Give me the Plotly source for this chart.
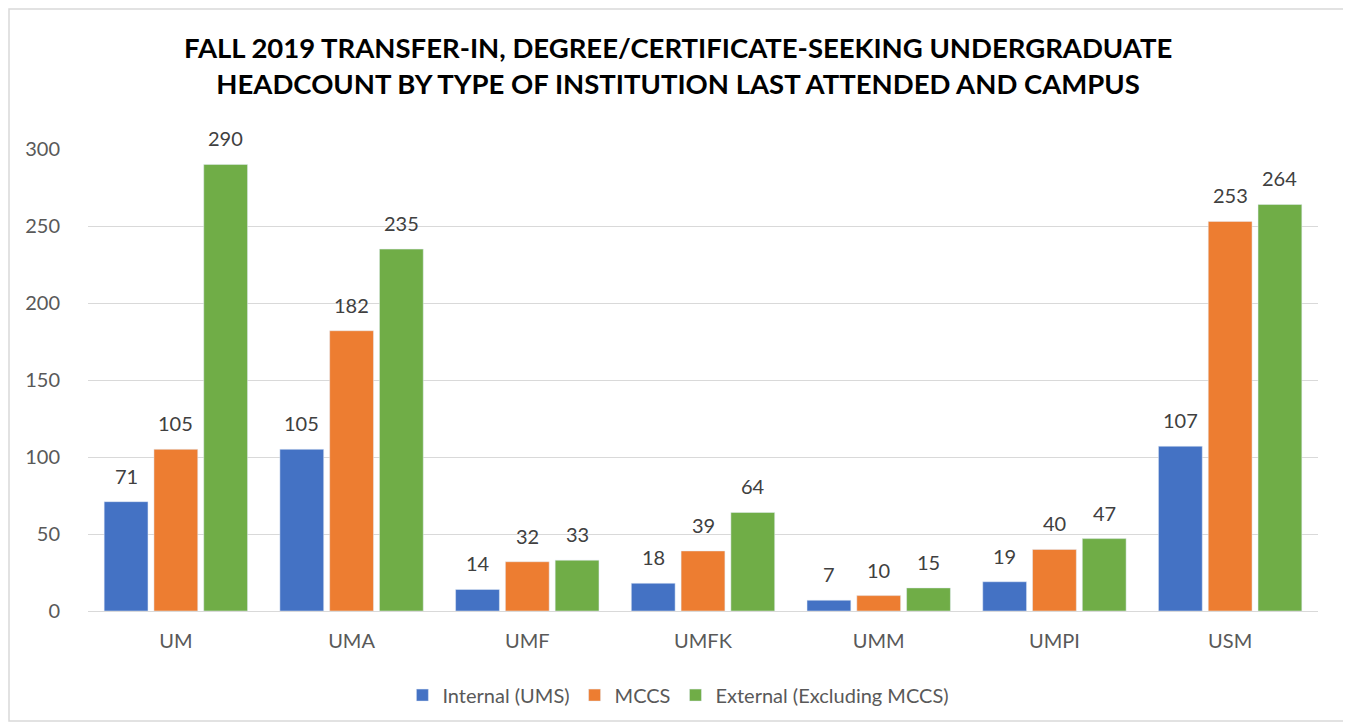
import plotly.graph_objects as go

# Campus categories and series values
campuses = ["UM", "UMA", "UMF", "UMFK", "UMM", "UMPI", "USM"]
internal_ums = [71, 105, 14, 18, 7, 19, 107]
mccs = [105, 182, 32, 39, 10, 40, 253]
external = [290, 235, 33, 64, 15, 47, 264]

series = [
    ("Internal (UMS)", internal_ums, "#4472C4"),
    ("MCCS", mccs, "#ED7D31"),
    ("External (Excluding MCCS)", external, "#70AD47"),
]

FONT = "Lato, Calibri, sans-serif"
BARGAP = 0.15
PLOT_W = 1230

fig = go.Figure()
for name, vals, color in series:
    fig.add_trace(go.Bar(
        x=campuses,
        y=vals,
        name=name,
        marker_color=color,
    ))

# value labels, placed a bit higher above the bars than plotly's outside text
slot = (1 - BARGAP) * PLOT_W / len(campuses) / len(series)
for i, (name, vals, color) in enumerate(series):
    for c, v in zip(campuses, vals):
        fig.add_annotation(
            x=c, y=v, text=str(v), showarrow=False,
            xshift=(i - 1) * slot, yshift=26, yanchor="middle",
            font=dict(family=FONT, size=20, color="#404040"),
        )

# page is rendered with an 8px body margin, margins below account for that
fig.update_layout(
    width=1351,
    height=726,
    paper_bgcolor="white",
    plot_bgcolor="white",
    font=dict(family=FONT, color="#595959"),
    title=dict(
        text="FALL 2019 TRANSFER-IN, DEGREE/CERTIFICATE-SEEKING UNDERGRADUATE<br>"
             "HEADCOUNT BY TYPE OF INSTITUTION LAST ATTENDED AND CAMPUS",
        x=0.496, xanchor="center", y=0.931, yanchor="middle",
        font=dict(family=FONT, size=27.5, color="black", weight="bold"),
    ),
    margin=dict(l=80, r=41, t=141, b=123),
    barmode="group",
    bargap=BARGAP,
    bargroupgap=0.12,
    showlegend=True,
    legend=dict(
        orientation="h",
        x=0.48, xanchor="center",
        y=-0.182, yanchor="middle",
        font=dict(family=FONT, size=20, color="#595959"),
    ),
)

fig.update_yaxes(
    range=[0, 300],
    dtick=50,
    showgrid=True,
    gridcolor="#d9d9d9",
    gridwidth=1,
    zeroline=False,
    ticks="",
    tickfont=dict(family=FONT, size=20, color="#595959"),
    ticklabelstandoff=27,
)
fig.update_xaxes(
    showline=True,
    linecolor="#d9d9d9",
    linewidth=1,
    ticks="",
    tickfont=dict(family=FONT, size=20, color="#595959"),
    ticklabelstandoff=12,
)

# light outer border around the whole chart
fig.add_shape(
    type="rect", xref="paper", yref="paper",
    x0=(9 - 88) / 1230, x1=(1345 - 88) / 1230,
    y0=(611 - 721) / 462, y1=(611 - 9) / 462,
    line=dict(color="#d9d9d9", width=1.5),
    fillcolor="rgba(0,0,0,0)",
    layer="below",
)

fig.write_html("out.html")
